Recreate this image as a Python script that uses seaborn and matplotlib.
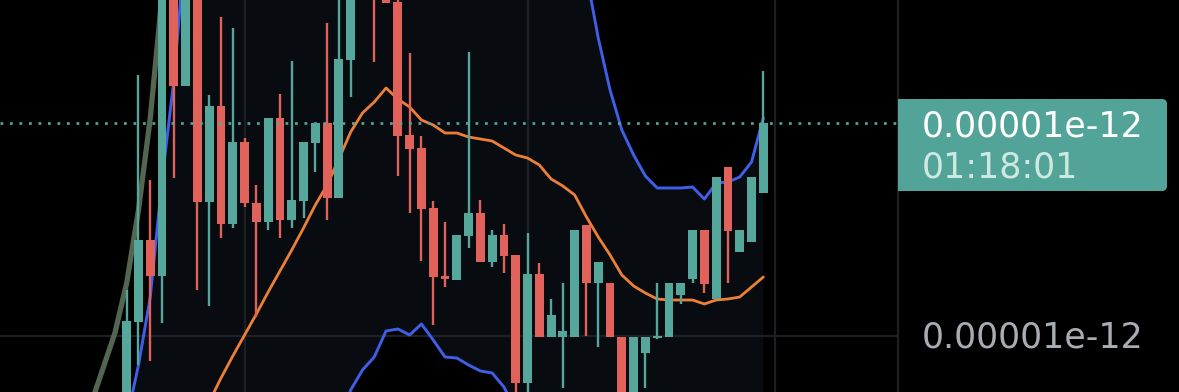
import numpy as np
import pandas as pd
import matplotlib
matplotlib.use("Agg")
import matplotlib.pyplot as plt
import seaborn as sns
from matplotlib.patches import FancyBboxPatch

# ---------------- data (price units, arbitrary scale) ----------------
open_ = [-30, 78, 160, 124, 420, 314, 430, 198, 294, 176, 258, 197, 178, 282, 180,
         199, 257, 277, 202, 340, 415, 460, 410, 398, 265, 252, 192, 124, 120, 164,
         187, 138, 165, 145, 17, 126, 63, 63, 63, 175, 117, 117, 63, -10, 47,
         62, 63, 105, 121, 170, 101, 233, 148, 158, 207]
high = [110, 325, 220, 440, 445, 450, 450, 305, 383, 372, 262, 215, 282, 306, 339,
        258, 277, 377, 420, 430, 480, 470, 420, 405, 347, 264, 199, 178, 165, 348,
        200, 170, 176, 145, 167, 137, 101, 117, 170, 175, 138, 117, 63, 63, 63,
        117, 117, 117, 170, 170, 223, 233, 170, 223, 329]
low = [-40, 35, 39, 77, 222, 314, 110, 94, 162, 172, 193, 83, 170, 162, 172,
       182, 228, 180, 202, 303, 405, 338, 397, 224, 187, 139, 75, 113, 120, 152,
       138, 133, 127, 0, 0, 63, 63, 12, 63, 64, 53, 63, -20, -20, 12,
       61, 63, 96, 117, 107, 101, 117, 148, 158, 207]
close = [79, 160, 124, 420, 314, 430, 198, 294, 176, 258, 197, 178, 282, 180, 200,
         258, 277, 202, 341, 415, 460, 408, 397, 264, 251, 191, 123, 121, 165, 187,
         138, 165, 144, 17, 126, 63, 85, 69, 170, 117, 138, 63, -10, 63, 63,
         63, 117, 117, 170, 116, 223, 169, 170, 223, 277]

ma_idx = list(range(7, 55))
ma = [-2, 22, 44, 65, 86, 108, 129, 150, 172, 195, 215, 241, 268, 287, 298, 312,
      301, 293, 280, 275, 267, 267, 263, 261, 259, 252, 245, 242, 235, 221, 214,
      205, 183, 163, 145, 125, 114, 107, 101, 100, 100, 100, 96, 100, 101, 103,
      113, 123]

band_idx = list(range(0, 55))
upper = [-20, 35, 103, 220, 320, 460, 560, 620, 650, 670, 680, 690, 690, 690, 690,
         690, 690, 690, 700, 710, 720, 720, 710, 700, 690, 680, 670, 660, 650, 640,
         630, 620, 600, 580, 560, 540, 520, 490, 470, 425, 362, 310, 270, 245, 224,
         212, 212, 212, 213, 201, 217, 218, 223, 238, 282]
lower = [-300, -280, -260, -240, -220, -200, -180, -160, -140, -120, -100, -90, -80,
         -70, -60, -50, -45, -35, -25, 10, 30, 43, 69, 71, 65, 76, 60, 43, 42, 35,
         29, 27, 13, -10, -40, -60, -80, -90, -100, -100, -95, -90, -85, -80, -70,
         -60, -55, -50, -45, -40, -40, -40, -40, -35, -30]

trend_idx = [-3, -2, -1, 0, 1, 2, 3]
trend = [-3, 32, 67, 117, 190, 282, 405]

price_label = "0.00001e-12"
countdown_label = "01:18:01"
axis_label = "0.00001e-12"
axis_label_value = 64
grid_x = [10, 34, 55]

# ---------------- style ----------------
sns.set_theme(style="dark")
plt.rcParams["font.family"] = ["DejaVu Sans"]

UP = "#55a79c"
DOWN = "#e0625a"
ORANGE = "#ee7f36"
BLUE = "#3f5fe8"
TREND = "#526651"
GRID = "#1c1f24"
BAND_FILL = "#080b10"

W, H = 1179, 392
fig = plt.figure(figsize=(W / 100, H / 100), dpi=100, facecolor="black")
px_left = 898
ax = fig.add_axes([0, 0, px_left / W, 1])
ax.set_facecolor("black")

step = 11.789
x0 = 126.7
ax.set_xlim(-x0 / step, (px_left - x0) / step)
ax.set_ylim(8, 400)

# band fill
ax.fill_between(band_idx, lower, upper, color=BAND_FILL, lw=0, zorder=0)

# grid
for g in grid_x:
    ax.axvline(g, color=GRID, lw=1.6, zorder=0.5)
ax.axhline(axis_label_value, color=GRID, lw=1.6, zorder=0.5)

# lines
sns.lineplot(x=trend_idx, y=trend, ax=ax, color=TREND, lw=3.8, zorder=1, sort=False)
sns.lineplot(x=band_idx, y=upper, ax=ax, color=BLUE, lw=2.1, zorder=1, sort=False)
sns.lineplot(x=band_idx, y=lower, ax=ax, color=BLUE, lw=2.1, zorder=1, sort=False)
sns.lineplot(x=ma_idx, y=ma, ax=ax, color=ORANGE, lw=2.0, zorder=1, sort=False)

# candles
df = pd.DataFrame({"o": open_, "h": high, "l": low, "c": close})
df["i"] = np.arange(len(df))
df["col"] = np.where(df["c"] >= df["o"], UP, DOWN)
bottom = np.minimum(df["o"], df["c"])
height = np.maximum(np.abs(df["c"] - df["o"]), 1.6)
ax.vlines(df["i"], df["l"], df["h"], colors=df["col"], lw=1.7, zorder=2)
ax.bar(df["i"], height, bottom=bottom, width=0.75, color=df["col"], lw=0, zorder=3)

# last price dotted line
last = close[-1]
ax.axhline(last, color=UP, lw=1.9, ls=(0, (1.05, 2.55)), zorder=4)

for s in ["top", "left", "bottom"]:
    ax.spines[s].set_visible(False)
ax.spines["right"].set_color(GRID)
ax.spines["right"].set_linewidth(1.6)
ax.set_xticks([])
ax.set_yticks([])
ax.set_xlabel("")
ax.set_ylabel("")
ax.grid(False)

# right price scale
ax2 = fig.add_axes([px_left / W, 0, (W - px_left) / W, 1])
ax2.set_facecolor("black")
ax2.set_xlim(0, W - px_left)
ax2.set_ylim(8, 400)
ax2.axis("off")

box_top = last + 24
box_bottom = last - 68
box = FancyBboxPatch((-6, box_bottom), 275, box_top - box_bottom,
                     boxstyle="round,pad=0,rounding_size=5", mutation_aspect=1,
                     fc="#52a498", ec="none", zorder=1)
ax2.add_patch(box)
ax2.text(24, last - 13, price_label, color="white", fontsize=25,
         va="baseline", ha="left", zorder=2)
ax2.text(24, last - 54, countdown_label, color="#cfe8e3", fontsize=25,
         va="baseline", ha="left", zorder=2)
ax2.text(24, axis_label_value - 12, axis_label, color="#a9acb3", fontsize=25,
         va="baseline", ha="left", zorder=2)

fig.savefig("out.png", dpi=100, facecolor="black")
